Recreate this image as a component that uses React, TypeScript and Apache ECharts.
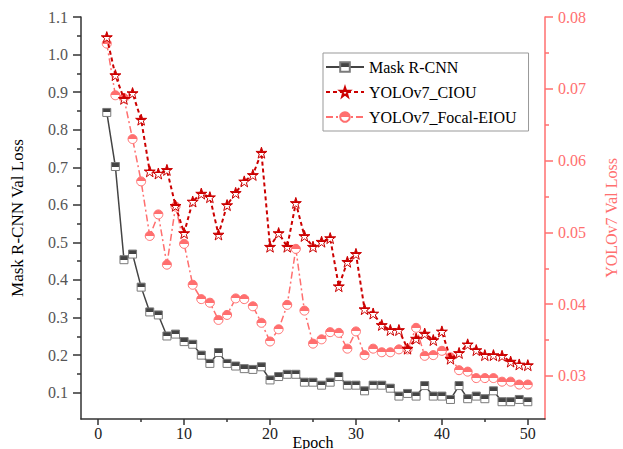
import React, { useEffect, useRef } from "react";
import * as echarts from "echarts";

const epochs = Array.from({ length: 50 }, (_, i) => i + 1);
const maskRcnn = [0.846,0.702,0.454,0.469,0.381,0.315,0.307,0.251,0.256,0.236,0.229,0.2,0.178,0.207,0.178,0.171,0.164,0.162,0.169,0.134,0.143,0.149,0.149,0.128,0.128,0.12,0.128,0.143,0.12,0.12,0.105,0.12,0.12,0.112,0.091,0.098,0.091,0.119,0.091,0.091,0.082,0.119,0.084,0.091,0.084,0.105,0.076,0.076,0.082,0.076];
const yoloCiou = [0.0772,0.0719,0.0686,0.0694,0.0657,0.0585,0.0582,0.0587,0.0537,0.0499,0.0543,0.0554,0.0549,0.0497,0.0538,0.0555,0.0571,0.058,0.0611,0.048,0.0499,0.048,0.0541,0.0495,0.048,0.0487,0.0492,0.0425,0.0459,0.047,0.0393,0.0387,0.0371,0.0364,0.0364,0.0338,0.0352,0.0359,0.035,0.0362,0.0324,0.0332,0.0344,0.0336,0.0329,0.0329,0.0328,0.032,0.0316,0.0315];
const yoloFocal = [0.0763,0.0691,0.0687,0.063,0.0571,0.0495,0.0525,0.0455,0.0536,0.0484,0.0427,0.0407,0.0402,0.0378,0.0385,0.0408,0.0407,0.0397,0.0374,0.0348,0.0365,0.0399,0.0477,0.0391,0.0345,0.0351,0.0361,0.036,0.0338,0.0362,0.0329,0.0338,0.0333,0.0333,0.0337,0.0337,0.0367,0.0328,0.0329,0.0335,0.0326,0.0308,0.0306,0.0297,0.0297,0.0297,0.0292,0.0292,0.0288,0.0288];

const xTicks = [0, 10, 20, 30, 40, 50];
const xMinorTicks = [5, 15, 25, 35, 45];
const leftTicks = [0.1, 0.2, 0.3, 0.4, 0.5, 0.6, 0.7, 0.8, 0.9, 1.0, 1.1];
const leftMinorTicks = [0.15, 0.25, 0.35, 0.45, 0.55, 0.65, 0.75, 0.85, 0.95, 1.05];
const rightTicks = [0.03, 0.04, 0.05, 0.06, 0.07, 0.08];
const rightMinorTicks = [0.035, 0.045, 0.055, 0.065, 0.075];

const SERIF = "'Liberation Serif', 'Times New Roman', serif";
const DARK = "#444444";
const RED = "#cc0000";
const PINK = "#ff6f6f";

function halfFill(c: string) {
  return new echarts.graphic.LinearGradient(0, 0, 0, 1, [
    { offset: 0, color: c },
    { offset: 0.5, color: c },
    { offset: 0.5, color: "#ffffff" },
    { offset: 1, color: "#ffffff" },
  ]);
}

export default function App() {
  const ref = useRef<HTMLDivElement>(null);
  useEffect(() => {
    if (!ref.current) return;
    const chart = echarts.init(ref.current, undefined, { renderer: "svg" });
    const xBase = { type: "value", min: -2, max: 52, gridIndex: 0, position: "bottom", splitLine: { show: false } };
    chart.setOption({
      animation: false,
      backgroundColor: "#ffffff",
      grid: { left: 81, right: 78, top: 17, bottom: 30, containLabel: false, outerBoundsMode: "none" },
      legend: {
        orient: "vertical",
        left: 323,
        top: 53,
        width: 207,
        padding: [6, 12, 6, 2],
        itemWidth: 38,
        itemHeight: 12,
        itemGap: 9,
        borderColor: "#999999",
        borderWidth: 1,
        backgroundColor: "#ffffff",
        textStyle: { fontFamily: SERIF, fontSize: 16, color: "#000000", padding: [0, 0, 0, 0] },
        data: ["Mask R-CNN", "YOLOv7_CIOU", "YOLOv7_Focal-EIOU"],
      },
      xAxis: [
        {
          ...xBase,
          name: "Epoch",
          nameLocation: "middle",
          nameGap: 15,
          nameMoveOverlap: false,
          nameTextStyle: { fontFamily: SERIF, fontSize: 16, color: "#000" },
          axisLine: { show: true, onZero: false, lineStyle: { color: "#333", width: 1.5 } },
          axisTick: { show: true, inside: false, length: 6, customValues: xTicks, lineStyle: { color: "#333", width: 1.5 } },
          axisLabel: { customValues: xTicks, margin: 6, fontFamily: SERIF, fontSize: 16, color: "#222" },
        },
        {
          ...xBase,
          axisLine: { show: false, onZero: false },
          axisTick: { show: true, inside: false, length: 3, customValues: xMinorTicks, lineStyle: { color: "#333", width: 1.5 } },
          axisLabel: { show: false },
        },
      ],
      yAxis: [
        {
          type: "value",
          position: "left",
          min: 0.03,
          max: 1.1,
          name: "Mask R-CNN Val Loss",
          nameLocation: "middle",
          nameGap: 55,
          nameMoveOverlap: false,
          nameRotate: 90,
          nameTextStyle: { fontFamily: SERIF, fontSize: 17, color: "#000" },
          splitLine: { show: false },
          axisLine: { show: true, onZero: false, lineStyle: { color: "#333", width: 1.5 } },
          axisTick: { show: true, inside: false, length: 8, customValues: leftTicks, lineStyle: { color: "#333", width: 1.5 } },
          axisLabel: { customValues: leftTicks, margin: 13, fontFamily: SERIF, fontSize: 16, color: "#555", formatter: (v: number) => v.toFixed(1) },
        },
        {
          type: "value",
          position: "right",
          min: 0.024,
          max: 0.08,
          name: "YOLOv7 Val Loss",
          nameLocation: "middle",
          nameGap: 58,
          nameMoveOverlap: false,
          nameRotate: 90,
          nameTextStyle: { fontFamily: SERIF, fontSize: 16, color: PINK },
          splitLine: { show: false },
          axisLine: { show: true, onZero: false, lineStyle: { color: PINK, width: 1.5 } },
          axisTick: { show: true, inside: false, length: 8, customValues: rightTicks, lineStyle: { color: PINK, width: 1.5 } },
          axisLabel: { customValues: rightTicks, margin: 13, fontFamily: SERIF, fontSize: 16, color: PINK, formatter: (v: number) => v.toFixed(2) },
        },
        {
          type: "value",
          position: "left",
          min: 0.03,
          max: 1.1,
          splitLine: { show: false },
          axisLine: { show: false, onZero: false },
          axisTick: { show: true, inside: false, length: 4, customValues: leftMinorTicks, lineStyle: { color: "#333", width: 1.5 } },
          axisLabel: { show: false },
        },
        {
          type: "value",
          position: "right",
          min: 0.024,
          max: 0.08,
          splitLine: { show: false },
          axisLine: { show: false, onZero: false },
          axisTick: { show: true, inside: false, length: 4, customValues: rightMinorTicks, lineStyle: { color: PINK, width: 1.5 } },
          axisLabel: { show: false },
        },
      ],
      series: [
        {
          name: "Mask R-CNN",
          type: "line",
          xAxisIndex: 0,
          yAxisIndex: 0,
          data: epochs.map((e, i) => [e, maskRcnn[i]]),
          symbol: "rect",
          symbolSize: 8,
          lineStyle: { color: DARK, width: 1.5, type: "solid" },
          itemStyle: { color: halfFill(DARK), borderColor: "#7a7a7a", borderWidth: 1 },
          z: 3,
        },
        {
          name: "YOLOv7_CIOU",
          type: "line",
          xAxisIndex: 0,
          yAxisIndex: 1,
          data: epochs.map((e, i) => [e, yoloCiou[i]]),
          symbol: "path://M50,0 L61.8,35.1 L98.1,35.1 L68.8,56.8 L79.4,91.9 L50,70.6 L20.6,91.9 L31.2,56.8 L1.9,35.1 L38.2,35.1 Z",
          symbolSize: 11,
          lineStyle: { color: RED, width: 2, type: [4, 3] },
          itemStyle: { color: halfFill(RED), borderColor: RED, borderWidth: 1 },
          z: 4,
        },
        {
          name: "YOLOv7_Focal-EIOU",
          type: "line",
          xAxisIndex: 0,
          yAxisIndex: 1,
          data: epochs.map((e, i) => [e, yoloFocal[i]]),
          symbol: "circle",
          symbolSize: 9,
          lineStyle: { color: PINK, width: 1.5, type: [7, 3, 2, 3] },
          itemStyle: { color: halfFill(PINK), borderColor: PINK, borderWidth: 1 },
          z: 2,
        },
      ],
    });
    return () => chart.dispose();
  }, []);
  return (
    <div
      ref={ref}
      style={{ position: "fixed", left: 0, top: 0, width: 623, height: 449, background: "#fff" }}
    />
  );
}
